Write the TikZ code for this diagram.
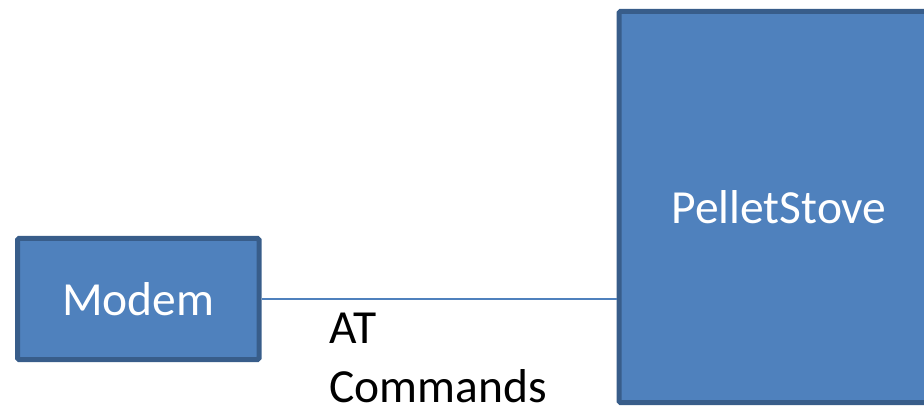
\documentclass[tikz,border=0pt]{standalone}
\usepackage{fontspec}
\setmainfont{Carlito}
\definecolor{boxfill}{HTML}{4F81BD}
\definecolor{boxline}{HTML}{385D8A}
\begin{document}
\begin{tikzpicture}[x=1pt,y=-1pt,
  block/.style={draw=boxline, fill=boxfill, line width=5pt, rounded corners=1.5pt,
    text=white, font=\fontsize{47.5}{57}\selectfont, inner sep=0pt},
  link/.style={draw=boxfill, line width=1.5pt},
  lbl/.style={font=\fontsize{47.5}{59}\selectfont, align=left, inner sep=0pt, text=black}]
\useasboundingbox (0,0) rectangle (924,406);
\begin{scope}
\clip (0,0) rectangle (924,406);
\node[block, minimum width=241.5pt, minimum height=121pt] (modem) at (138.25,299) {Modem};
\node[block, minimum width=320pt, minimum height=391pt, text width=320pt, align=center] (stove) at (779,207) {PelletStove};
\draw[link] (modem.east) -- (modem.east -| stove.west);
\node[lbl, anchor=north west] (at) at (329,313) {AT\\Commands};
\end{scope}
\end{tikzpicture}
\end{document}
